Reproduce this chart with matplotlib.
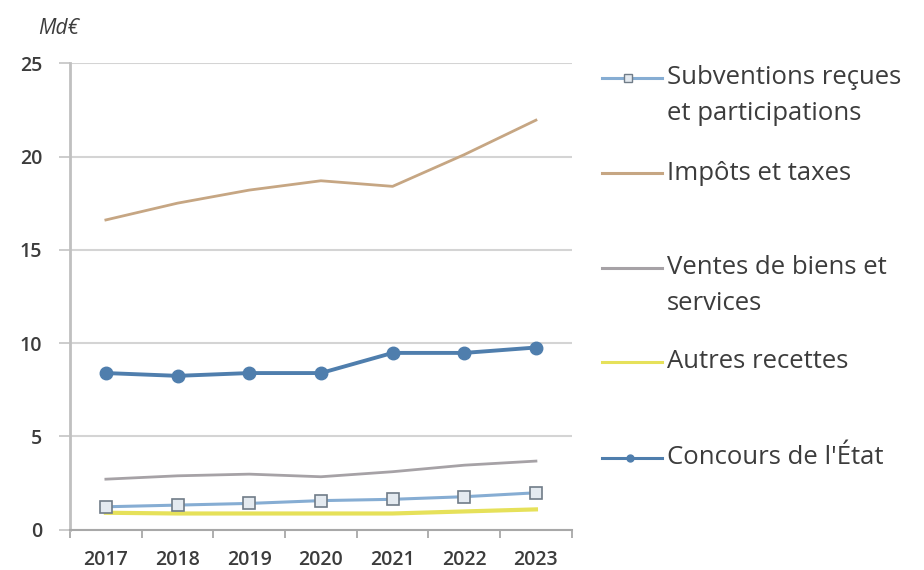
import matplotlib
matplotlib.use("Agg")
import matplotlib.pyplot as plt
from matplotlib.lines import Line2D
import numpy as np

plt.rcParams['font.family'] = ['Open Sans', 'DejaVu Sans']

years = ["2017", "2018", "2019", "2020", "2021", "2022", "2023"]
subventions = [1.22, 1.31, 1.4, 1.55, 1.62, 1.76, 1.97]
impots = [16.6, 17.5, 18.2, 18.7, 18.4, 20.1, 21.95]
ventes = [2.7, 2.88, 2.97, 2.83, 3.1, 3.45, 3.67]
autres = [0.9, 0.86, 0.86, 0.86, 0.86, 0.97, 1.08]
concours = [8.39, 8.24, 8.39, 8.39, 9.47, 9.47, 9.76]

labels = [["Subventions reçues", "et participations"], ["Impôts et taxes"],
          ["Ventes de biens et", "services"], ["Autres recettes"], ["Concours de l'État"]]

c_sub = "#86ADD3"
c_imp = "#C6A683"
c_ven = "#A6A2A6"
c_aut = "#E6E15A"
c_con = "#4F7EAD"
txt = "#3C3C3C"

fig = plt.figure(figsize=(9.24, 5.70), dpi=100)
ax = fig.add_axes([0.0758, 0.071, 0.543, 0.818])

x = np.arange(len(years))
ax.plot(x, autres, color=c_aut, lw=3, zorder=3)
ax.plot(x, ventes, color=c_ven, lw=2, zorder=3)
ax.plot(x, impots, color=c_imp, lw=2, zorder=3)
ax.plot(x, subventions, color=c_sub, lw=2.2, marker='s', ms=9, mfc='#E4EAF0',
        mec='#707C88', mew=1.2, zorder=4)
ax.plot(x, concours, color=c_con, lw=2.8, marker='o', ms=9, mfc=c_con,
        mec=c_con, zorder=4)

ax.set_xlim(-0.5, len(years) - 0.5)
ax.set_ylim(0, 25)
ax.set_yticks([0, 5, 10, 15, 20, 25])
ax.set_xticks(x)
ax.set_xticklabels(years)
ax.set_xticks(np.arange(-0.5, len(years)), minor=True)
ax.tick_params(axis='x', which='major', length=0, pad=15, labelsize=14, labelcolor=txt)
ax.tick_params(axis='x', which='minor', length=6, color='#A8A8A8', width=1.3, direction='out')
ax.tick_params(axis='y', length=8, color='#C8C8C8', width=1.3, labelsize=14, labelcolor=txt, pad=12)
for lab in ax.get_xticklabels() + ax.get_yticklabels():
    lab.set_fontweight('semibold')
ax.grid(axis='y', color='#D4D4D4', lw=1.5)
ax.set_axisbelow(True)
for s in ['top', 'right']:
    ax.spines[s].set_visible(False)
ax.spines['left'].set_color('#C0C0C0')
ax.spines['bottom'].set_color('#A8A8A8')
ax.spines['left'].set_linewidth(2)
ax.spines['bottom'].set_linewidth(1.5)

W, H = 924, 570
fig.text(38 / W, 1 - 29 / H, "Md€", style='italic', fontsize=15, color=txt,
         va='center', ha='left')

# legend (manual)
entries = [
    (78, c_sub, 's'),
    (173, c_imp, None),
    (268, c_ven, None),
    (362, c_aut, None),
    (458, c_con, 'o'),
]
for (yy, col, mk), lines in zip(entries, labels):
    yf = 1 - yy / H
    fig.add_artist(Line2D([602 / W, 662 / W], [yf, yf], transform=fig.transFigure,
                          color=col, lw=2.2))
    if mk == 's':
        fig.add_artist(Line2D([628 / W], [yf], transform=fig.transFigure, marker='s',
                              ms=6, mfc='#E4EAF0', mec='#707C88', mew=1, color=col))
    elif mk == 'o':
        fig.add_artist(Line2D([630 / W], [yf], transform=fig.transFigure, marker='o',
                              ms=5, mfc=col, mec=col, color=col))
    for i, line in enumerate(lines):
        fig.text(667 / W, 1 - (yy + 36 * i) / H, line, fontsize=18.5, color=txt,
                 va='center', ha='left')

fig.savefig("out.png", dpi=100, facecolor='white')
